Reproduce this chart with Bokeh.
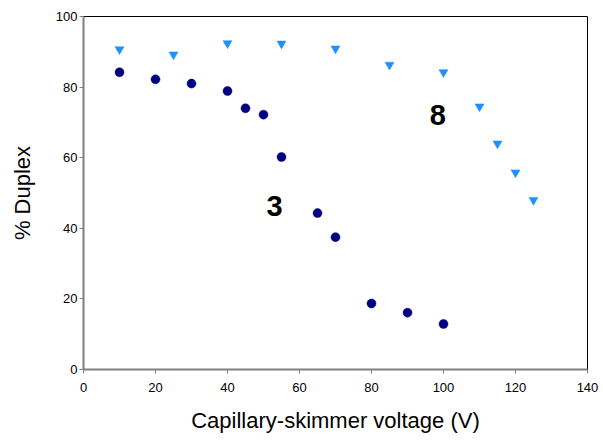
from bokeh.plotting import figure
from bokeh.models import Range1d, ColumnDataSource
from bokeh.core.properties import value
from bokeh.embed import file_html
from bokeh.resources import INLINE

x3 = [10, 20, 30, 40, 45, 50, 55, 65, 70, 80, 90, 100]
y3 = [84.2, 82.2, 81.0, 78.9, 74.0, 72.2, 60.2, 44.3, 37.5, 18.7, 16.1, 12.9]
x8 = [10, 25, 40, 55, 70, 85, 100, 110, 115, 120, 125]
y8 = [90.7, 89.2, 92.4, 92.3, 90.9, 86.3, 84.2, 74.5, 64.0, 55.8, 48.0]
label_x = [53.1, 98.4]
label_y = [46.4, 72.0]
label_text = ["3", "8"]
x_ticks = [0, 20, 40, 60, 80, 100, 120, 140]
y_ticks = [0, 20, 40, 60, 80, 100]

FONT = "Liberation Sans"

p = figure(width=603, height=441, output_backend="svg", toolbar_location=None,
           x_range=Range1d(0, 140), y_range=Range1d(0, 100),
           frame_width=504, frame_height=353,
           min_border_left=83, min_border_right=16, min_border_top=16, min_border_bottom=10)
p.background_fill_color = "white"
p.border_fill_color = "white"
p.outline_line_color = "black"
p.outline_line_width = 1
p.xgrid.visible = False
p.ygrid.visible = False

for ax in (p.xaxis, p.yaxis):
    ax.axis_line_color = "#808080"
    ax.axis_line_width = 2
    ax.major_tick_line_color = "#808080"
    ax.major_tick_line_width = 1
    ax.major_tick_out = 4
    ax.major_tick_in = 0
    ax.minor_tick_line_color = None
    ax.major_label_text_font = FONT
    ax.major_label_text_font_size = "13px"
    ax.major_label_text_color = "black"
    ax.axis_label_text_font = FONT
    ax.axis_label_text_font_size = "22px"
    ax.axis_label_text_font_style = "normal"
    ax.axis_label_text_color = "black"

p.xaxis.ticker = x_ticks
p.yaxis.ticker = y_ticks
p.xaxis.axis_label = "Capillary-skimmer voltage (V)"
p.yaxis.axis_label = "% Duplex"
p.xaxis.major_label_standoff = 9
p.xaxis.axis_label_standoff = 13
p.yaxis.major_label_standoff = 2
p.yaxis.axis_label_standoff = 18

p.scatter(x8, y8, marker="inverted_triangle", size=9, fill_color="#1E90FF", line_color="#1E90FF", line_width=0.5)
p.scatter(x3, y3, marker="circle", size=9, fill_color="#000080", line_color="#000080", line_width=0.5)

src = ColumnDataSource(dict(x=label_x, y=label_y, t=label_text))
p.text(x="x", y="y", text="t", source=src, text_font=value(FONT), text_font_size="29px",
       text_font_style="bold", text_align="center", text_baseline="middle", text_color="black")

open("out.html", "w").write(file_html(p, INLINE))
